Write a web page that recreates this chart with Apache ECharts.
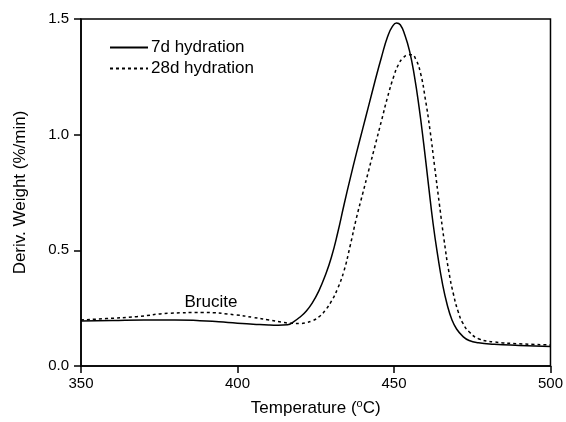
<!DOCTYPE html>
<html>
<head>
<meta charset="utf-8">
<script src="https://cdn.jsdelivr.net/npm/echarts@6/dist/echarts.min.js"></script>
<style>html,body{margin:0;padding:0;background:#fff;}#c{width:566px;height:422px;}</style>
</head>
<body>
<div id="c"></div>
<script>
var seriesNames = ['7d hydration', '28d hydration'];
var temp7d = [350,360,370,380,388,394,400,405,410,413,416,418,420,422,424,426,428,430,432,434,436,438,440,442,444,446,448,449.5,450.8,452,453.5,455,456.5,458,459.5,461,462.5,464,465.5,467,468.5,470,472,474,477,482,490,500];
var val7d  = [0.195,0.197,0.199,0.199,0.196,0.191,0.185,0.181,0.177,0.176,0.178,0.192,0.212,0.238,0.275,0.325,0.39,0.47,0.575,0.695,0.81,0.92,1.025,1.13,1.235,1.335,1.425,1.468,1.483,1.475,1.43,1.36,1.255,1.12,0.96,0.785,0.615,0.475,0.355,0.265,0.2,0.16,0.128,0.11,0.1,0.094,0.089,0.084];
var temp28d = [350,358,367.7,378.3,388.9,399.5,405,410.1,414,417,420,422,424,426,428,430,432,434,436,438,440,442,444,446,448,450,451.5,453,454.5,455.6,457,458.5,460,461.5,463,464.5,466,467.5,469,470.5,472,474,477,482,490,500];
var val28d  = [0.199,0.205,0.213,0.228,0.231,0.221,0.21,0.199,0.19,0.185,0.184,0.188,0.196,0.212,0.24,0.28,0.335,0.41,0.52,0.64,0.745,0.85,0.955,1.06,1.165,1.255,1.305,1.333,1.345,1.346,1.325,1.265,1.155,1.02,0.86,0.70,0.545,0.41,0.31,0.235,0.185,0.148,0.118,0.104,0.096,0.091];
var xTicks = [350, 400, 450, 500];
var yTicks = [0.0, 0.5, 1.0, 1.5];
var annotationText = 'Brucite';
var annotationAt = [391.5, 0.276];

function pairs(xs, ys){ return xs.map(function(x,i){ return [x, ys[i]]; }); }

var FONT = 'Arial, "Liberation Sans", sans-serif';
var chart = echarts.init(document.getElementById('c'));
chart.setOption({
  animation: false,
  backgroundColor: '#fff',
  textStyle: { fontFamily: FONT, color: '#000' },
  grid: { left: 81, right: 13, top: 19, bottom: 56, show: true, borderColor: '#000', borderWidth: 1.5, backgroundColor: 'transparent' },
  legend: {
    orient: 'vertical', left: 104, top: 34,
    itemWidth: 38, itemHeight: 14, itemGap: 4,
    itemStyle: { opacity: 0 },
    textStyle: { fontFamily: FONT, fontSize: 17, color: '#000', padding: [0,0,0,-2] },
    data: seriesNames
  },
  xAxis: {
    type: 'value', min: xTicks[0], max: xTicks[xTicks.length-1], interval: 50,
    name: 'Temperature ({sup|o}C)', nameLocation: 'middle', nameGap: 32,
    nameTextStyle: { fontFamily: FONT, fontSize: 17, color: '#000',
      rich: { sup: { fontFamily: FONT, fontSize: 11, color: '#000', verticalAlign: 'top', padding: [0,0,10,0] } } },
    axisLine: { lineStyle: { color: '#000', width: 1.5 } },
    axisTick: { show: true, inside: false, length: 7, lineStyle: { color: '#000', width: 1.5 } },
    axisLabel: { fontFamily: FONT, fontSize: 15, color: '#000', margin: 10 },
    splitLine: { show: false }
  },
  yAxis: {
    type: 'value', min: yTicks[0], max: yTicks[yTicks.length-1], interval: 0.5,
    name: 'Deriv. Weight (%/min)', nameLocation: 'middle', nameGap: 52,
    nameTextStyle: { fontFamily: FONT, fontSize: 17, color: '#000' },
    axisLine: { show: true, lineStyle: { color: '#000', width: 1.5 } },
    axisTick: { show: true, inside: false, length: 7, lineStyle: { color: '#000', width: 1.5 } },
    axisLabel: { fontFamily: FONT, fontSize: 15, color: '#000', margin: 12, formatter: function(v){ return v.toFixed(1); } },
    splitLine: { show: false }
  },
  series: [
    { name: seriesNames[0], type: 'line', data: pairs(temp7d, val7d), smooth: 0.5, symbol: 'none',
      lineStyle: { color: '#000', width: 1.5, type: 'solid' }, itemStyle: { color: '#000' } },
    { name: seriesNames[1], type: 'line', data: pairs(temp28d, val28d), smooth: 0.5, symbol: 'none',
      lineStyle: { color: '#000', width: 1.5, type: [3, 3] }, itemStyle: { color: '#000' },
      markPoint: { symbol: 'circle', symbolSize: 0, silent: true, animation: false,
        label: { show: true, position: 'inside', formatter: annotationText, fontFamily: FONT, fontSize: 17, color: '#000' },
        data: [{ coord: annotationAt }] } }
  ]
});
</script>
</body>
</html>
